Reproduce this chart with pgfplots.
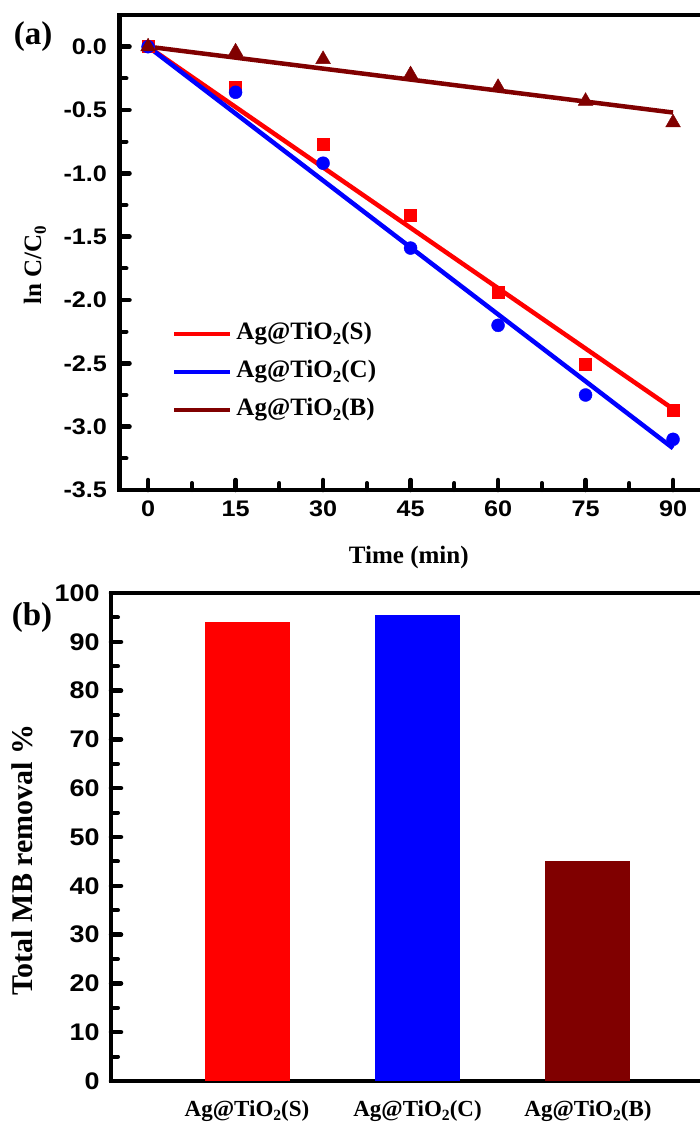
\documentclass[border=0pt]{standalone}
\usepackage{fontspec}
\setmainfont{Liberation Serif}
\setsansfont[FakeStretch=1.12]{Liberation Sans}
\usepackage{pgfplots}
\pgfplotsset{compat=1.18}
\definecolor{mybrown}{RGB}{128,0,0}
\newcommand{\sub}[1]{\raisebox{-0.42ex}{\scalebox{0.68}{#1}}}
\begin{document}
\begin{tikzpicture}
\begin{axis}[
  at={(119.5pt,-490pt)}, anchor=south west,
  scale only axis, width=579.8pt, height=475pt,
  xmin=-4.9, xmax=94.5, ymin=-3.5, ymax=0.25,
  axis x line*=box, axis y line*=left,
  xtick pos=bottom, ytick pos=left,
  tick align=inside,
  axis line style={line width=4.5pt, line cap=rect},
  major tick length=10pt, minor tick length=7pt,
  tick style={line width=4.5pt, black, line cap=round},
  major tick style={line width=4.5pt, black},
  minor tick style={line width=4pt, black},
  xtick={0,15,30,45,60,75,90}, minor x tick num=1,
  ytick={-3.5,-3,-2.5,-2,-1.5,-1,-0.5,0}, minor y tick num=1,
  yticklabels={-3.5,-3.0,-2.5,-2.0,-1.5,-1.0,-0.5,0.0},
  /pgf/number format/assume math mode=true,
  ticklabel style={font=\fontsize{22.5}{22.5}\selectfont\sffamily\bfseries},
  xticklabel style={yshift=-7pt},
  yticklabel style={xshift=-9pt},
  xlabel={Time (min)},
  ylabel={ln C/C\sub{0}},
  label style={font=\fontsize{25}{25}\selectfont\rmfamily\bfseries},
  xlabel style={at={(axis description cs:0.499,-0.143)}, anchor=center},
  ylabel style={at={(axis description cs:-0.146,0.474)}, anchor=center},
  legend style={at={(axis description cs:0.0905,0.356)}, anchor=north west,
    draw=none, fill=none, inner sep=0pt, outer sep=0pt,
    font=\fontsize{25}{25}\selectfont\rmfamily\bfseries,
    row sep=12pt, column sep=3pt,
    nodes={inner sep=1pt, text height=18pt, text depth=6pt}},
  legend cell align=left,
  legend image code/.code={\draw[#1] (0pt,0pt) -- (56pt,0pt);},
  clip=false,
]
\addplot[red, line width=4.5pt] coordinates {(0,0) (90,-2.86)};
\addlegendentry{Ag@TiO\sub{2}(S)}
\addplot[blue, line width=4.5pt] coordinates {(0,0) (90,-3.17)};
\addlegendentry{Ag@TiO\sub{2}(C)}
\addplot[mybrown, line width=4.5pt] coordinates {(0,0) (90,-0.52)};
\addlegendentry{Ag@TiO\sub{2}(B)}
\addplot[forget plot, only marks, mark=square*, red, mark size=6pt] coordinates {
(0,0) (15,-0.32) (30,-0.77) (45,-1.33) (60,-1.94) (75,-2.51) (90,-2.87)};
\addplot[forget plot, only marks, mark=*, blue, mark size=6.5pt] coordinates {
(0,0) (15,-0.36) (30,-0.92) (45,-1.59) (60,-2.20) (75,-2.75) (90,-3.10)};
\addplot[forget plot, only marks, mark=triangle*, mybrown, mark size=8.5pt] coordinates {
(0,0) (15,-0.04) (30,-0.10) (45,-0.22) (60,-0.32) (75,-0.43) (90,-0.60)};
\end{axis}
\node[font=\fontsize{33}{33}\selectfont\rmfamily\bfseries] at (33pt,-37pt) {(a)};

\begin{axis}[
  at={(111pt,-1081pt)}, anchor=south west,
  scale only axis, width=589pt, height=488pt,
  xmin=0.2023, xmax=3.657, ymin=0, ymax=100,
  axis x line*=box, axis y line*=left,
  xtick pos=bottom, ytick pos=left,
  tick align=inside,
  axis line style={line width=4.5pt, line cap=rect},
  major tick length=10pt, minor tick length=7pt,
  tick style={line width=4.5pt, black, line cap=round},
  major tick style={line width=4.5pt, black},
  minor tick style={line width=4pt, black},
  xtick={1,2,3},
  xticklabels={Ag@TiO\sub{2}(S),Ag@TiO\sub{2}(C),Ag@TiO\sub{2}(B)},
  x tick style={draw=none},
  ytick={0,10,...,100}, minor y tick num=1,
  /pgf/number format/assume math mode=true,
  yticklabel style={font=\fontsize{24}{24}\selectfont\sffamily\bfseries, xshift=-8pt},
  xticklabel style={font=\fontsize{23}{23}\selectfont\rmfamily\bfseries, yshift=-6pt},
  ylabel={Total MB removal \%},
  ylabel style={font=\fontsize{30}{30}\selectfont\rmfamily\bfseries,
    at={(axis description cs:-0.151,0.453)}, anchor=center},
  ybar, bar width=85pt,
]
\addplot[fill=red, draw=none, bar shift=0pt] coordinates {(1,94.1)};
\addplot[fill=blue, draw=none, bar shift=0pt] coordinates {(2,95.5)};
\addplot[fill=mybrown, draw=none, bar shift=0pt] coordinates {(3,45.1)};
\end{axis}
\node[font=\fontsize{33}{33}\selectfont\rmfamily\bfseries] at (32pt,-618pt) {(b)};
\pgfresetboundingbox
\useasboundingbox (0pt,0pt) rectangle (699pt,-1127pt);
\end{tikzpicture}
\end{document}
